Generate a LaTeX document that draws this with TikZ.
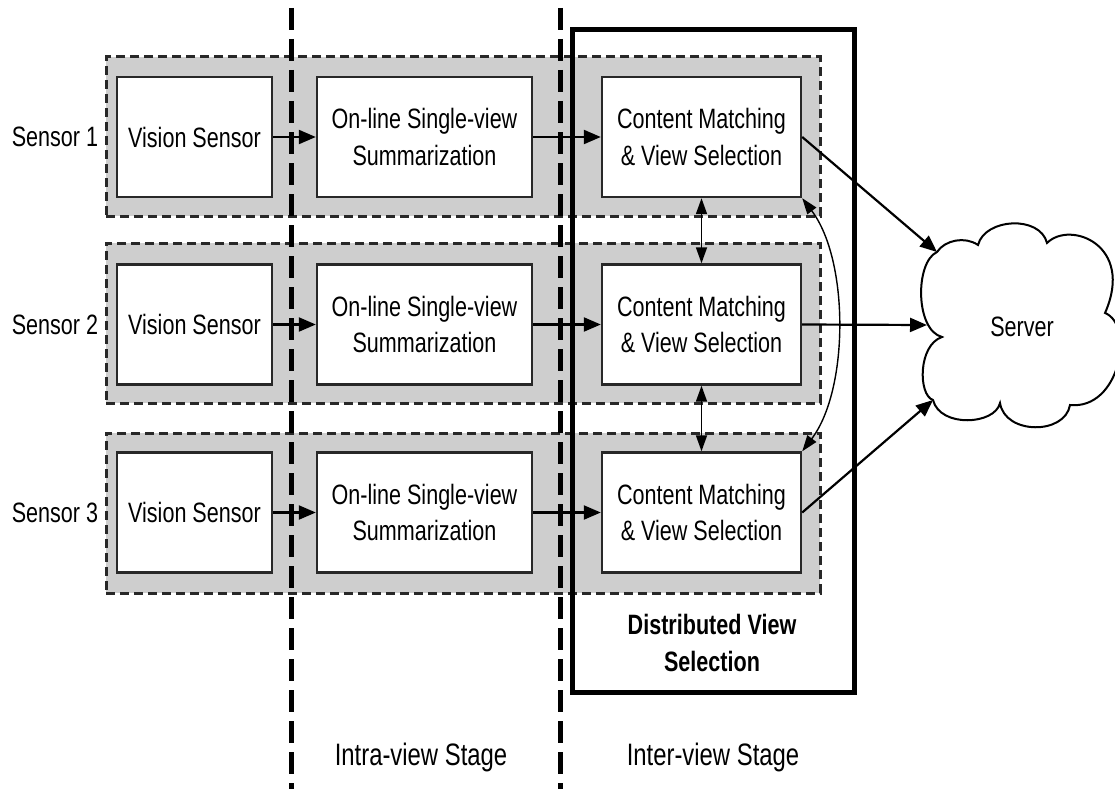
\documentclass[tikz,border=0pt]{standalone}
\usepackage{fontspec}
\setmainfont{Liberation Sans}[FakeStretch=0.77]
\usetikzlibrary{arrows.meta}
\definecolor{bandfill}{RGB}{206,206,206}
\definecolor{edge}{RGB}{40,40,40}
\begin{document}
\begin{tikzpicture}[x=1pt,y=-1pt,
  every node/.style={font=\fontsize{28}{36.5}\selectfont},
  band/.style={draw=edge, fill=bandfill, line width=3pt,
    dash pattern=on 9pt off 5pt, minimum width=714pt, inner sep=0pt},
  blk/.style={draw=edge, fill=white, line width=2.4pt, minimum height=120pt,
    inner sep=0pt, align=center},
  stageline/.style={draw=black, line width=5pt, dash pattern=on 22pt off 9pt},
  flow/.style={line width=2.2pt, -{Triangle[length=17pt,width=14pt]}},
  dbl/.style={line width=1.7pt,
    {Triangle[length=16pt,width=11pt]}-{Triangle[length=16pt,width=11pt]}},
  label/.style={font=\fontsize{31}{36}\selectfont}
]
\useasboundingbox (0,0) rectangle (1115,789);
\clip (0,0) rectangle (1115,789);

% grey sensor bands
\node[band, minimum height=159pt] (b1) at (463,136.5) {};
\node[band, minimum height=160pt] (b2) at (463,323) {};
\node[band, minimum height=160pt] (b3) at (463,513) {};

% processing blocks, one row per sensor
\foreach \r/\y in {1/137, 2/324.5, 3/512.5}{
  \node (l\r) at (55,\y) {Sensor \r};
  \node[blk, minimum width=155pt] (v\r) at (194.5,\y) {Vision Sensor};
  \node[blk, minimum width=215pt] (s\r) at (424.5,\y) {On-line Single-view\\Summarization};
  \node[blk, minimum width=199pt] (c\r) at (701.5,\y) {Content Matching\\\& View Selection};
}

% stage separators
\draw[stageline] (291,8) -- (291,789);
\draw[stageline] (560,8) -- (560,789);

% distributed view selection frame
\draw[line width=5pt] (572,30) rectangle (854,692);
\node[font=\fontsize{28}{37}\selectfont\bfseries, align=center] (dvs) at (712,643)
  {Distributed View\\Selection};

% stage labels
\node[label] (intra) at (421,757) {Intra-view Stage};
\node[label] (inter) at (713,757) {Inter-view Stage};

% server cloud
\draw[line width=2pt, fill=white]
  (937,252) .. controls (945,240) and (965,236) .. (978,245)
  .. controls (985,218) and (1040,215) .. (1047,243)
  .. controls (1070,220) and (1135,245) .. (1105,313)
  .. controls (1135,325) and (1120,410) .. (1070,405)
  .. controls (1065,435) and (1005,435) .. (1000,403)
  .. controls (995,425) and (940,428) .. (933,400)
  .. controls (918,395) and (918,345) .. (942,337)
  .. controls (915,330) and (915,262) .. (937,252) -- cycle;
\node (srv) at (1022,327) {Server};
\coordinate (inA) at (937,252);
\coordinate (inB) at (927,325);
\coordinate (inC) at (933,400);

% data flow
\foreach \r in {1,2,3}{
  \draw[flow] (v\r) -- (s\r);
  \draw[flow] (s\r) -- (c\r);
}
\draw[flow] (c1.east) -- (inA);
\draw[flow] (c2.east) -- (inB);
\draw[flow] (c3.east) -- (inC);

% exchanges between neighbouring sensors
\draw[dbl] (c1.south) -- (c2.north);
\draw[dbl] (c2.south) -- (c3.north);
\draw[dbl, line width=1.4pt] (c1.south east) .. controls +(47,62) and +(47,-62) .. (c3.north east);
\end{tikzpicture}
\end{document}
